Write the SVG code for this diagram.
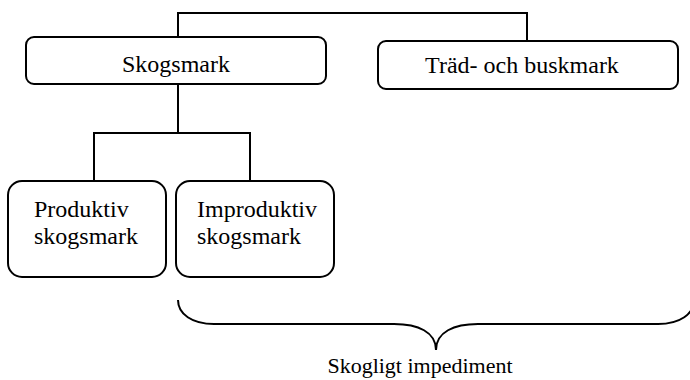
<svg xmlns="http://www.w3.org/2000/svg" width="690" height="380" viewBox="0 0 690 380">
<style>
.box{fill:#fff;stroke:#000;stroke-width:2}
.ln{fill:none;stroke:#000;stroke-width:2}
text{font-family:"Liberation Serif","Times New Roman",serif;font-size:24px;fill:#000}
.c{text-anchor:middle}
</style>
<rect width="690" height="380" fill="#fff"/>
<g id="connectors">
<path class="ln" d="M178,37 V13 H527 V41"/>
<path class="ln" d="M178,84 V133"/>
<path class="ln" d="M94,181 V133 H250 V181"/>
<path class="ln" d="M178,300 C178,314 192,324 214,324 H394 C418,324 436,332 436,350 C436,332 454,324 478,324 H658 C680,324 694,314 694,300"/>
</g>
<g id="skogsmark">
<rect class="box" x="26" y="37" width="300" height="47" rx="8"/>
<text class="c" x="176" y="72">Skogsmark</text>
</g>
<g id="trad">
<rect class="box" x="378" y="41" width="300" height="48" rx="8"/>
<text class="c" x="522" y="73">Träd- och buskmark</text>
</g>
<g id="produktiv">
<rect class="box" x="8" y="181" width="158" height="96" rx="14"/>
<text x="34" y="217">Produktiv</text>
<text x="34" y="244">skogsmark</text>
</g>
<g id="improduktiv">
<rect class="box" x="176" y="181" width="158" height="96" rx="14"/>
<text x="197" y="217">Improduktiv</text>
<text x="197" y="244">skogsmark</text>
</g>
<g id="impediment">
<text class="c" x="420" y="373" style="font-size:22px">Skogligt impediment</text>
</g>
</svg>
